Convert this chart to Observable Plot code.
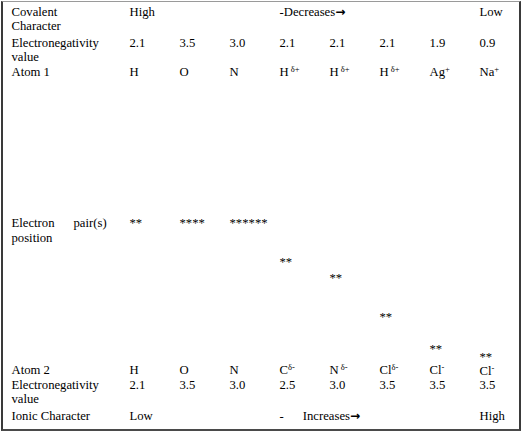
<!DOCTYPE html>
<html><head><meta charset="utf-8">
<script src="https://cdn.jsdelivr.net/npm/d3@7"></script>
<script src="https://cdn.jsdelivr.net/npm/@observablehq/plot@0.6"></script>
<style>
html,body{margin:0;padding:0;background:#fff;overflow:hidden;}
#wrap{position:relative;width:522px;height:431px;}
#wrap svg{position:absolute;left:0;top:0;}
#border{position:absolute;left:1px;top:1px;width:520px;height:430px;box-sizing:border-box;
  border-top:1px solid #9a9a9a;border-left:2px solid #3a3a3a;border-right:2px solid #3a3a3a;border-bottom:2px solid #4a4a4a;pointer-events:none;}
</style></head><body>
<div id="wrap"><div id="border"></div></div>
<script>
// ---- data ----
const bonds = ["H–H", "O–O", "N–N", "H–C", "H–N", "H–Cl", "Ag–Cl", "Na–Cl"];
const covalentScale = ["High", "", "", "-Decreases\u2192", "", "", "", "Low"];
const atom1 = ["H", "O", "N", "H", "H", "H", "Ag", "Na"];
const atom1Charge = ["", "", "", " δ+", " δ+", " δ+", "+", "+"];
const en1 = [2.1, 3.5, 3.0, 2.1, 2.1, 2.1, 1.9, 0.9];
const pairStars = ["**", "****", "******", "**", "**", "**", "**", "**"];
const pairDrop = [0, 0, 0, 2.87, 4.10, 6.94, 9.33, 9.95]; // shift of the electron pair toward atom 2 (text lines)
const atom2 = ["H", "O", "N", "C", "N", "Cl", "Cl", "Cl"];
const atom2Charge = ["", "", "", "δ-", " δ-", "δ-", "-", "-"];
const en2 = [2.1, 3.5, 3.0, 2.5, 3.0, 3.5, 3.5, 3.5];
const ionicScale = ["Low", "", "", "-\u2003\u2002Increases\u2192", "", "", "", "High"];
const rowLabels = ["Covalent", "Character", "Electronegativity", "value", "Atom 1",
  "Electron\u2003\u2002pair(s)", "position", "Atom 2", "Electronegativity", "value", "Ionic Character"];

// ---- layout (text-line units) ----
const labelLines = [0, 1.06, 2.30, 3.36, 4.51, 15.77, 16.87, 26.72, 27.83, 28.87, 30.1];
const LINE = {cov: 0, en1: 2.30, atom1: 4.51, pair: 15.77, atom2: 26.72, en2: 27.83, ionic: 30.1};

const table = bonds.map((b, i) => ({
  bond: b,
  cov: covalentScale[i],
  atom1: atom1[i] + (atom1Charge[i] ? "^" + atom1Charge[i] : ""),
  en1: en1[i].toFixed(1),
  stars: pairStars[i],
  drop: pairDrop[i],
  atom2: atom2[i] + (atom2Charge[i] ? "^" + atom2Charge[i] : ""),
  en2: en2[i].toFixed(1),
  ionic: ionicScale[i]
}));
const labels = rowLabels.map((t, i) => ({t, line: labelLines[i]}));

const common = {fontSize: 12.7, fill: "#000", textAnchor: "start"};
const rowText = (key, line) => Plot.text(table.filter(d => d[key] !== ""), {
  x: "bond", y: () => line, text: key, ...common
});

const svg = Plot.plot({
  width: 522,
  height: 431,
  marginLeft: 11,
  marginRight: 41,
  marginTop: 0,
  marginBottom: 0,
  style: {fontFamily: "'Liberation Serif', 'Times New Roman', serif", fontSize: "12.7px", background: "#fff", color: "#000"},
  x: {type: "point", domain: bonds, insetLeft: 116, padding: 0, axis: null},
  y: {type: "linear", domain: [0, 30.1], range: [11.3, 415.1], axis: null},
  marks: [
    Plot.text(labels, {y: "line", text: "t", frameAnchor: "left", ...common}),
    rowText("cov", LINE.cov),
    rowText("en1", LINE.en1),
    rowText("atom1", LINE.atom1),
    Plot.text(table, {x: "bond", y: d => LINE.pair + d.drop, text: "stars", ...common}),
    // atom 2 sits on its row, or just below the electron pair when the pair reaches it
    Plot.text(table, {x: "bond", y: d => Math.max(LINE.atom2, LINE.pair + d.drop + 1.04), text: "atom2", ...common}),
    rowText("en2", LINE.en2),
    rowText("ionic", LINE.ionic)
  ]
});

// render superscripted charges and heavy arrows as real tspans
const ns = "http://www.w3.org/2000/svg";
svg.querySelectorAll("text").forEach(t => {
  const s = t.textContent;
  if (s.includes("^")) {
    const [base, sup] = s.split("^");
    t.textContent = base;
    const ts = document.createElementNS(ns, "tspan");
    ts.setAttribute("dy", "-4");
    ts.setAttribute("font-size", "8.5");
    ts.textContent = sup;
    t.appendChild(ts);
  } else if (s.includes("\u2192")) {
    const [before, after] = s.split("\u2192");
    t.textContent = before;
    const ts = document.createElementNS(ns, "tspan");
    ts.setAttribute("font-family", "'DejaVu Sans', sans-serif");
    ts.setAttribute("font-weight", "bold");
    ts.setAttribute("font-size", "12");
    ts.textContent = "\u2192";
    t.appendChild(ts);
    if (after) t.appendChild(document.createTextNode(after));
  }
});

const wrap = document.getElementById("wrap");
wrap.insertBefore(svg, document.getElementById("border"));
</script>
</body></html>
